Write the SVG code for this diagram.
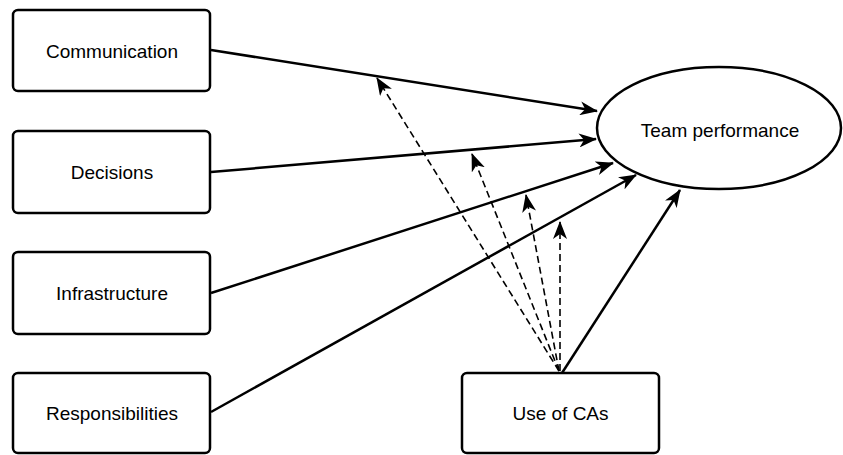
<svg xmlns="http://www.w3.org/2000/svg" width="843" height="455" viewBox="0 0 843 455">
<style>
.box{fill:#fff;stroke:#000;stroke-width:2.5}
.lbl{font-family:"Liberation Sans",Arial,sans-serif;font-size:19px;fill:#000;text-anchor:middle}
.solid{stroke:#000;stroke-width:2.5;fill:none}
.dash{stroke:#000;stroke-width:1.6;fill:none;stroke-dasharray:7 4}
</style>
<defs>
<marker id="ah" viewBox="0 0 18 14" refX="17" refY="7" markerWidth="18" markerHeight="14" markerUnits="userSpaceOnUse" orient="auto">
<path d="M0,0 L18,7 L0,14 L5,7 z" fill="#000"/>
</marker>
</defs>
<rect width="843" height="455" fill="#fff"/>
<g id="connectors">
<line class="solid" x1="211" y1="50" x2="597" y2="111" marker-end="url(#ah)"/>
<line class="solid" x1="211" y1="172" x2="596" y2="139" marker-end="url(#ah)"/>
<line class="solid" x1="211" y1="293" x2="613" y2="163" marker-end="url(#ah)"/>
<line class="solid" x1="211" y1="412" x2="636" y2="175" marker-end="url(#ah)"/>
<line class="solid" x1="562" y1="373" x2="680" y2="190" marker-end="url(#ah)"/>
<line class="dash" x1="559" y1="371" x2="377" y2="78" marker-end="url(#ah)"/>
<line class="dash" x1="559" y1="371" x2="472" y2="154" marker-end="url(#ah)"/>
<line class="dash" x1="559" y1="371" x2="526" y2="195" marker-end="url(#ah)"/>
<line class="dash" x1="560" y1="371" x2="560" y2="222" marker-end="url(#ah)"/>
</g>
<g id="communication"><rect class="box" x="13" y="10" width="197" height="81" rx="5"/><text class="lbl" x="112" y="58">Communication</text></g>
<g id="decisions"><rect class="box" x="13" y="131" width="197" height="82" rx="5"/><text class="lbl" x="112" y="179">Decisions</text></g>
<g id="infrastructure"><rect class="box" x="13" y="252" width="197" height="82" rx="5"/><text class="lbl" x="112" y="300">Infrastructure</text></g>
<g id="responsibilities"><rect class="box" x="13" y="373" width="197" height="80" rx="5"/><text class="lbl" x="112" y="420">Responsibilities</text></g>
<g id="use-of-cas"><rect class="box" x="462" y="373" width="197" height="80" rx="5"/><text class="lbl" x="560.5" y="420">Use of CAs</text></g>
<g id="team-performance"><ellipse class="box" cx="719" cy="128" rx="122" ry="61"/><text class="lbl" x="720" y="137">Team performance</text></g>
</svg>
